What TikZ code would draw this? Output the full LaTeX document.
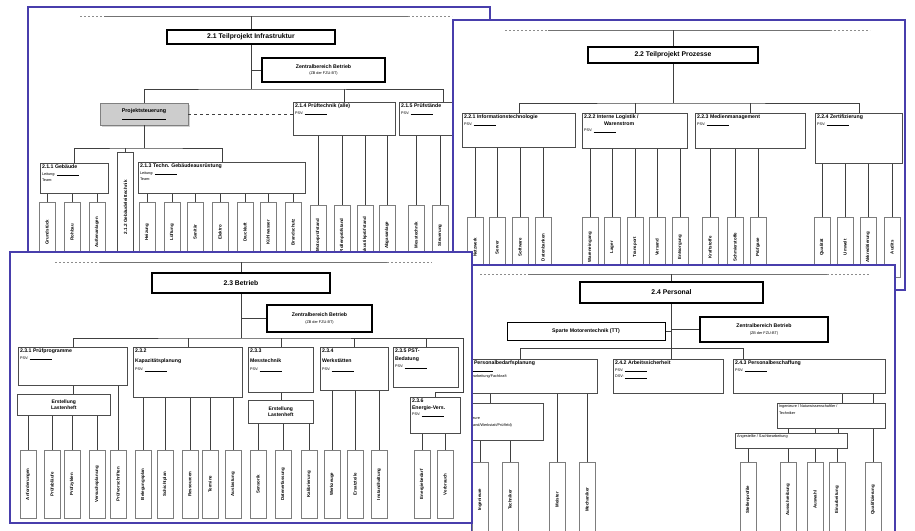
\documentclass[tikz,border=0pt]{standalone}
\usepackage{fontspec}
\setmainfont{Liberation Sans}
\usepackage{tikz}
\usetikzlibrary{positioning,shadows}
\definecolor{slideblue}{RGB}{72,62,172}
\definecolor{leafgray}{RGB}{125,125,125}
\definecolor{psgray}{RGB}{205,205,205}
\newcommand{\fillin}{\rule[-0.4pt]{22pt}{0.3pt}}
\newcommand{\subline}[1]{{\mdseries\fontsize{3.8}{5}\selectfont #1}}

\begin{document}
\begin{tikzpicture}[
    x=1pt, y=-1pt,
    slide/.style={draw=slideblue,line width=1.8pt,fill=white},
    headrule/.style={draw=black!55,line width=0.7pt},
    headdash/.style={draw=black!45,line width=0.6pt,dash pattern=on 2pt off 2pt},
    conn/.style={draw=black!75,line width=0.6pt},
    titlebox/.style={draw,line width=2pt,fill=white,inner sep=0pt,
                     font=\bfseries\fontsize{6.8}{7.8}\selectfont},
    zbbox/.style={draw,line width=1.1pt,fill=white,inner sep=0pt,align=center,
                  font=\bfseries\fontsize{5.2}{6.4}\selectfont},
    unit/.style 2 args={draw=black!70,line width=0.6pt,fill=white,inner sep=0pt,
                        anchor=north west,minimum width=#1pt,minimum height=#2pt},
    utext/.style={anchor=north west,align=left,inner sep=1.8pt,
                  font=\bfseries\fontsize{5.2}{6.6}\selectfont},
    notebox/.style={draw=black!70,line width=0.6pt,fill=white,inner sep=0pt,
                    anchor=north west,align=center,
                    font=\bfseries\fontsize{5}{6.2}\selectfont},
    leaf/.style={draw=leafgray,line width=0.5pt,fill=white,rotate=90,anchor=east,
                 inner sep=1pt,minimum height=16pt,minimum width=#1pt,
                 font=\bfseries\fontsize{4.4}{5}\selectfont}]

  \useasboundingbox (0,0) rectangle (915,530);
  \clip (0,0) rectangle (915,530);
  \fill[white] (0,0) rectangle (915,530);

  % Slide 2.1: Teilprojekt Infrastruktur
  \draw[slide] (28,7) rectangle (490,262);
  \coordinate (h1a) at (80,16);  \coordinate (h1b) at (104,16);
  \coordinate (h1c) at (408,16); \coordinate (h1d) at (452,16);
  \draw[headdash] (h1a) -- (h1b);
  \draw[headrule] (h1b) -- (h1c);
  \draw[headdash] (h1c) -- (h1d);
  \node[titlebox,minimum width=168pt,minimum height=14pt] (t1) at (251,37)
    {2.1 Teilprojekt Infrastruktur};
  \node[zbbox,minimum width=123pt,minimum height=24pt] (zb1) at (323.5,70)
    {Zentralbereich Betrieb\\\subline{(ZB der FZU-BT)}};
  \node[draw=black!50,fill=psgray,line width=0.6pt,align=center,inner sep=0pt,
        minimum width=88pt,minimum height=22pt,
        drop shadow={opacity=0.35,shadow xshift=1.5pt,shadow yshift=-1.5pt},
        font=\bfseries\fontsize{5.4}{6.6}\selectfont] (ps) at (144,114)
    {Projektsteuerung\\\subline{\fillin\fillin}};
  \node[unit={68}{30},label={[utext]north west:{2.1.1 Gebäude\\\subline{Leitung: \fillin}\\\subline{Team:}}}]
    (u211) at (40,163) {};
  \node[leaf=110,draw=black!70,font=\bfseries\fontsize{4.6}{5}\selectfont]
    (u212) at (125.5,152) {2.1.2 Gebäudeleittechnik};
  \node[unit={167}{31},label={[utext]north west:{2.1.3 Techn. Gebäudeausrüstung\\\subline{Leitung: \fillin}\\\subline{Team:}}}]
    (u213) at (138,162) {};
  \node[unit={102}{33},label={[utext]north west:{2.1.4 Prüftechnik (alle)\\\subline{PSV: \fillin}}}]
    (u214) at (293,102) {};
  \node[unit={88}{33},label={[utext]north west:{2.1.5 Prüfstände\\\subline{PSV: \fillin}}}]
    (u215) at (399,102) {};
  \coordinate (b1) at (251,89);
  \coordinate (b1l) at (144,148);
  \draw[conn] (t1.north |- h1b) -- (t1.north);
  \draw[conn] (t1.south) -- (b1);
  \draw[conn] (t1.south |- zb1.west) -- (zb1.west);
  \draw[conn] (ps.north) |- (b1) -| (u215.north);
  \draw[conn] (b1 -| u214.north) -- (u214.north);
  \draw[conn,dashed] (ps.east) -- (ps.east -| u214.west);
  \draw[conn] (ps.south) -- (b1l);
  \draw[conn] (u211.north) |- (b1l) -| (u213.north);
  \draw[conn] (b1l -| u212.east) -- (u212.east);
  \foreach \x/\t [count=\i] in {47/Grundstück,72/Rohbau,97/Außenanlagen}{
    \node[leaf=60] (l211-\i) at (\x,202) {\t};
    \draw[conn] (u211.south -| l211-\i.east) -- (l211-\i.east);}
  \foreach \x/\t [count=\i] in {147/Heizung,172/Lüftung,195/Sanitär,220/Elektro,
      245/Druckluft,268/Kühlwasser,293/Brandschutz}{
    \node[leaf=60] (l213-\i) at (\x,202) {\t};
    \draw[conn] (u213.south -| l213-\i.east) -- (l213-\i.east);}
  \foreach \x/\t [count=\i] in {318/Motorprüfstand,342/Rollenprüfstand,
      365/Akustikprüfstand,387/Abgasanlage}{
    \node[leaf=60] (l214-\i) at (\x,205) {\t};
    \draw[conn] (u214.south -| l214-\i.east) -- (l214-\i.east);}
  \foreach \x/\t [count=\i] in {416/Messtechnik,440/Steuerung}{
    \node[leaf=60] (l215-\i) at (\x,205) {\t};
    \draw[conn] (u215.south -| l215-\i.east) -- (l215-\i.east);}

  % Slide 2.2: Teilprojekt Prozesse
  \draw[slide] (453,20) rectangle (905,290);
  \coordinate (h2a) at (505,30); \coordinate (h2b) at (548,30);
  \coordinate (h2c) at (830,30); \coordinate (h2d) at (870,30);
  \draw[headdash] (h2a) -- (h2b);
  \draw[headrule] (h2b) -- (h2c);
  \draw[headdash] (h2c) -- (h2d);
  \node[titlebox,minimum width=170pt,minimum height=16pt] (t2) at (673,55)
    {2.2 Teilprojekt Prozesse};
  \node[unit={113}{34},label={[utext]north west:{2.2.1 Informationstechnologie\\\subline{PSV: \fillin}}}]
    (u221) at (462,113) {};
  \node[unit={105}{35},label={[utext]north west:{2.2.2 Interne Logistik /\\\hspace*{20pt}Warenstrom\\\subline{PSV: \fillin}}}]
    (u222) at (582,113) {};
  \node[unit={110}{35},label={[utext]north west:{2.2.3 Medienmanagement\\\subline{PSV: \fillin}}}]
    (u223) at (695,113) {};
  \node[unit={87}{50},label={[utext]north west:{2.2.4 Zertifizierung\\\subline{PSV: \fillin}}}]
    (u224) at (815,113) {};
  \coordinate (b2) at (673,103);
  \draw[conn] (t2.north |- h2b) -- (t2.north);
  \draw[conn] (t2.south) -- (b2);
  \draw[conn] (u221.north) |- (b2) -| (u224.north);
  \draw[conn] (b2 -| u222.north) -- (u222.north);
  \draw[conn] (b2 -| u223.north) -- (u223.north);
  \foreach \x/\t [count=\i] in {475/Netzwerk,497/Server,520/Software,543/Datenbanken}{
    \node[leaf=60] (l221-\i) at (\x,217) {\t};
    \draw[conn] (u221.south -| l221-\i.east) -- (l221-\i.east);}
  \foreach \x/\t [count=\i] in {590/Wareneingang,612/Lager,635/Transport,
      657/Versand,680/Entsorgung}{
    \node[leaf=60] (l222-\i) at (\x,217) {\t};
    \draw[conn] (u222.south -| l222-\i.east) -- (l222-\i.east);}
  \foreach \x/\t [count=\i] in {710/Kraftstoffe,735/Schmierstoffe,758/Prüfgase}{
    \node[leaf=60] (l223-\i) at (\x,217) {\t};
    \draw[conn] (u223.south -| l223-\i.east) -- (l223-\i.east);}
  \foreach \x/\t [count=\i] in {822/Qualität,845/Umwelt,868/Akkreditierung,892/Audits}{
    \node[leaf=60] (l224-\i) at (\x,217) {\t};
    \draw[conn] (u224.south -| l224-\i.east) -- (l224-\i.east);}

  % Slide 2.4: Personal
  \draw[slide] (472,265) rectangle (895,545);
  \coordinate (h4a) at (480,274); \coordinate (h4b) at (528,274);
  \coordinate (h4c) at (827,274); \coordinate (h4d) at (870,274);
  \draw[headdash] (h4a) -- (h4b);
  \draw[headrule] (h4b) -- (h4c);
  \draw[headdash] (h4c) -- (h4d);
  \node[titlebox,minimum width=183pt,minimum height=21pt] (t4) at (671.5,292.5)
    {2.4 Personal};
  \node[zbbox,line width=1pt,minimum width=158pt,minimum height=18pt] (sp4) at (586,331)
    {Sparte Motorentechnik (TT)};
  \node[zbbox,minimum width=128pt,minimum height=25pt] (zb4) at (764,329.5)
    {Zentralbereich Betrieb\\\subline{(ZB der FZU-BT)}};
  \node[unit={138}{34},label={[utext]north west:{2.4.1 Personalbedarfsplanung\\\subline{PSV: \fillin}\\\subline{Sachbearbeitung/Fachkraft}}}]
    (u241) at (459,359) {};
  \node[unit={110}{34},label={[utext]north west:{2.4.2 Arbeitssicherheit\\\subline{PSV: \fillin}\\\subline{DSV: \fillin}}}]
    (u242) at (613,359) {};
  \node[unit={152}{34},label={[utext]north west:{2.4.3 Personalbeschaffung\\\subline{PSV: \fillin}}}]
    (u243) at (733,359) {};
  \node[unit={83}{37},label={[utext,yshift=-12pt]north west:{\subline{Ingenieure}\\\subline{(Prüfstand/Werkstatt/Prüffeld)}}}]
    (ing1) at (460,403) {};
  \node[unit={108}{25},label={[utext]north west:{\subline{Ingenieure / Naturwissenschaftler /}\\\subline{Techniker}}}]
    (ing2) at (777,403) {};
  \node[unit={112}{15},label={[utext]north west:{\subline{Angestellte / Sachbearbeitung}}}]
    (ang) at (735,433) {};
  \coordinate (b4l) at (520,348); \coordinate (b4) at (671.5,348);
  \coordinate (b4r) at (743,348);
  \draw[conn] (t4.north |- h4b) -- (t4.north);
  \draw[conn] (t4.south) -- (b4);
  \draw[conn] (t4.south |- sp4.east) -- (sp4.east);
  \draw[conn] (t4.south |- zb4.west) -- (zb4.west);
  \draw[conn] (b4l |- u241.north) -- (b4l) -- (b4r) -- (b4r |- u243.north);
  \draw[conn] (b4) -- (b4 |- u242.north);
  \coordinate (d41) at (490,0);
  \draw[conn] (u241.south -| d41) -- (ing1.north -| d41);
  \foreach \x [count=\i] in {842,873}{
    \coordinate (d43-\i) at (\x,0);
    \draw[conn] (u243.south -| d43-\i) -- (ing2.north -| d43-\i);}
  \foreach \x [count=\i] in {788,815,838}{
    \coordinate (d44-\i) at (\x,0);
    \draw[conn] (ing2.south -| d44-\i) -- (ang.north -| d44-\i);}
  \foreach \x/\t [count=\i] in {480/Ingenieure,510/Techniker}{
    \node[leaf=75] (l41-\i) at (\x,462) {\t};
    \draw[conn] (ing1.south -| l41-\i.east) -- (l41-\i.east);}
  \foreach \x/\t [count=\i] in {557/Meister,587/Mechaniker}{
    \node[leaf=75] (l42-\i) at (\x,462) {\t};
    \draw[conn] (u241.south -| l42-\i.east) -- (l42-\i.east);}
  \foreach \x/\t [count=\i] in {748/Stellenprofile,788/Ausschreibung,815/Auswahl,
      837/Einarbeitung}{
    \node[leaf=75] (l43-\i) at (\x,462) {\t};
    \draw[conn] (ang.south -| l43-\i.east) -- (l43-\i.east);}
  \node[leaf=75] (l44) at (873,462) {Qualifizierung};
  \draw[conn] (ing2.south -| l44.east) -- (l44.east);

  % Slide 2.3: Betrieb
  \draw[slide] (10,252) rectangle (472,523);
  \coordinate (h3a) at (55,262);  \coordinate (h3b) at (100,262);
  \coordinate (h3c) at (387,262); \coordinate (h3d) at (432,262);
  \draw[headdash] (h3a) -- (h3b);
  \draw[headrule] (h3b) -- (h3c);
  \draw[headdash] (h3c) -- (h3d);
  \node[titlebox,minimum width=178pt,minimum height=20pt] (t3) at (241,283)
    {2.3 Betrieb};
  \node[zbbox,minimum width=105pt,minimum height=27pt] (zb3) at (319.5,318.5)
    {Zentralbereich Betrieb\\\subline{(ZB der FZU-BT)}};
  \node[unit={109}{38},label={[utext]north west:{2.3.1 Prüfprogramme\\\subline{PSV: \fillin}}}]
    (u231) at (18,347) {};
  \node[notebox,minimum width=93pt,minimum height=21pt] (el1) at (17,394)
    {Erstellung\\Lastenheft};
  \node[unit={109}{50},label={[utext]north west:{2.3.2\\[3pt]Kapazitätsplanung\\[2pt]\subline{PSV: \fillin}}}]
    (u232) at (133,347) {};
  \node[unit={65}{45},label={[utext]north west:{2.3.3\\[3pt]Messtechnik\\[2pt]\subline{PSV: \fillin}}}]
    (u233) at (248,347) {};
  \node[notebox,minimum width=65pt,minimum height=23pt] (el2) at (248,400)
    {Erstellung\\Lastenheft};
  \node[unit={68}{43},label={[utext]north west:{2.3.4\\[3pt]Werkstätten\\[2pt]\subline{PSV: \fillin}}}]
    (u234) at (320,347) {};
  \node[unit={65}{40},label={[utext]north west:{2.3.5 PST-\\[1pt]Bedatung\\[1pt]\subline{PSV: \fillin}}}]
    (u235) at (393,347) {};
  \node[unit={50}{36},label={[utext]north west:{2.3.6\\Energie-Vers.\\\subline{PSV: \fillin}}}]
    (u236) at (410,397) {};
  \coordinate (b3) at (241,338); \coordinate (b3r) at (463,338);
  \coordinate (k3) at (463,392);
  \draw[conn] (t3.north |- h3b) -- (t3.north);
  \draw[conn] (t3.south) -- (b3);
  \draw[conn] (t3.south |- zb3.west) -- (zb3.west);
  \draw[conn] (u231.north) |- (b3) -- (b3r) -- (k3) -| (u236.north);
  \foreach \n in {u232,u233,u234,u235}
    \draw[conn] (b3 -| \n.north) -- (\n.north);
  \draw[conn] (u231.south) -- (u231.south |- el1.north);
  \draw[conn] (u233.south) -- (u233.south |- el2.north);
  \foreach \x/\t [count=\i] in {28/Anforderungen,52/Prüfabläufe,72/Prüfzyklen,
      97/Versuchsplanung}{
    \node[leaf=68] (l31-\i) at (\x,450) {\t};
    \draw[conn] (el1.south -| l31-\i.east) -- (l31-\i.east);}
  \node[leaf=68] (l31-5) at (118,450) {Prüfvorschriften};
  \draw[conn] (u231.south -| l31-5.east) -- (l31-5.east);
  \foreach \x/\t [count=\i] in {143/Belegungsplan,165/Schichtplan,190/Ressourcen,
      210/Termine,233/Auslastung}{
    \node[leaf=68] (l32-\i) at (\x,450) {\t};
    \draw[conn] (u232.south -| l32-\i.east) -- (l32-\i.east);}
  \foreach \x/\t [count=\i] in {258/Sensorik,283/Datenerfassung,309/Kalibrierung}{
    \node[leaf=68] (l33-\i) at (\x,450) {\t};
    \draw[conn] (el2.south -| l33-\i.east) -- (l33-\i.east);}
  \foreach \x/\t [count=\i] in {332/Werkzeuge,355/Ersatzteile,379/Instandhaltung}{
    \node[leaf=68] (l34-\i) at (\x,450) {\t};
    \draw[conn] (u234.south -| l34-\i.east) -- (l34-\i.east);}
  \foreach \x/\t [count=\i] in {422/Energiebedarf,445/Verbrauch}{
    \node[leaf=68] (l36-\i) at (\x,450) {\t};
    \draw[conn] (u236.south -| l36-\i.east) -- (l36-\i.east);}
\end{tikzpicture}
\end{document}
